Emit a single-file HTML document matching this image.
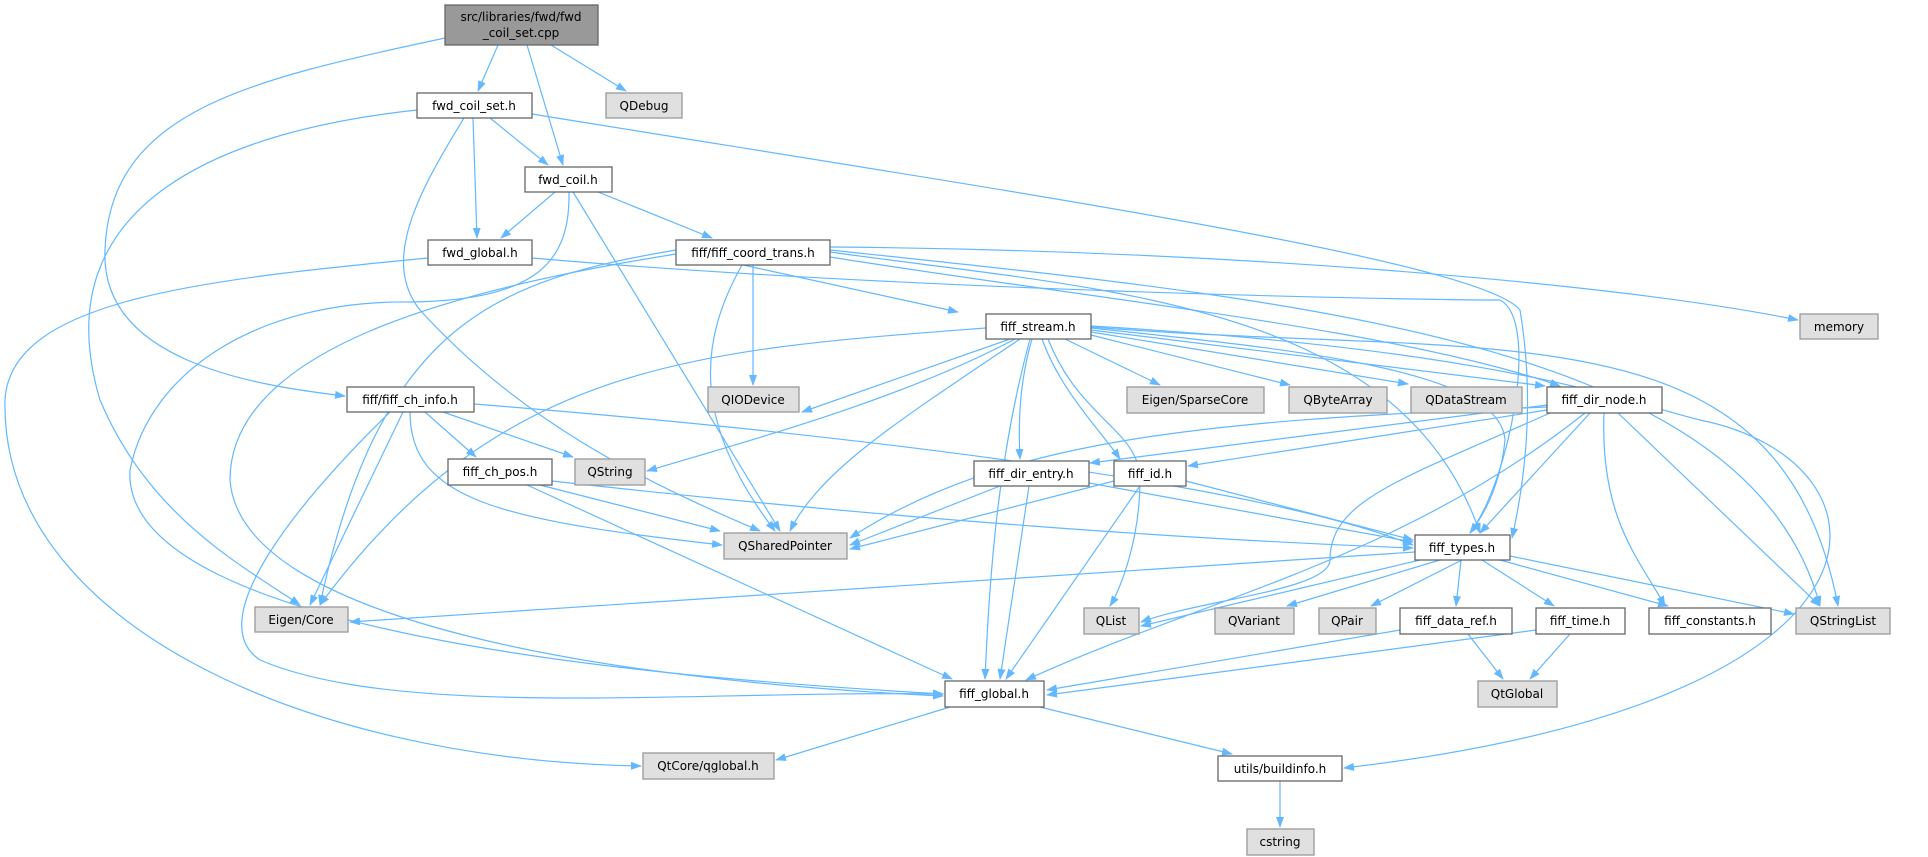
<!DOCTYPE html>
<html><head><meta charset="utf-8"><style>
html,body{margin:0;padding:0;background:#fff;}
svg{display:block;}
text{font-family:"DejaVu Sans","Liberation Sans",sans-serif;font-size:12px;fill:#000;}
.e{fill:none;stroke:#63b8ff;stroke-width:1.2;marker-end:url(#a);}
.n{fill:#fff;stroke:#666;stroke-width:1.3;}
.g{fill:#e0e0e0;stroke:#999;stroke-width:1.3;}
</style></head><body>
<svg width="1928" height="857" viewBox="0 0 1928 857" xmlns="http://www.w3.org/2000/svg">
<defs><marker id="a" markerWidth="11" markerHeight="8" refX="10" refY="4" orient="auto" markerUnits="userSpaceOnUse"><path d="M0,0 L11,4 L0,8 z" fill="#63b8ff"/></marker></defs>
<path class="e" d="M498,45 L478,91"/>
<path class="e" d="M527,45 L563,165"/>
<path class="e" d="M551,45 L626,91"/>
<path class="e" d="M445,38 C250,80 110,110 105,250 C100,360 250,385 345,396"/>
<path class="e" d="M490,118 L548,165"/>
<path class="e" d="M473,118 L477,238"/>
<path class="e" d="M464,118 C420,190 380,260 420,310 C520,420 640,480 760,531"/>
<path class="e" d="M417,110 C230,130 40,200 100,400 C150,520 250,570 300,605"/>
<path class="e" d="M532,114 C1000,190 1480,260 1520,310 C1535,400 1525,480 1512,538"/>
<path class="e" d="M555,192 L501,238"/>
<path class="e" d="M598,192 L712,238"/>
<path class="e" d="M573,192 L780,531"/>
<path class="e" d="M569,192 C570,260 540,300 410,302 C260,300 150,370 130,470 C120,640 700,680 943,694"/>
<path class="e" d="M428,258 C200,280 10,300 5,400 C0,620 300,760 641,766"/>
<path class="e" d="M532,258 C900,290 1400,300 1500,300 C1540,320 1510,480 1470,533"/>
<path class="e" d="M743,265 L958,312"/>
<path class="e" d="M753,265 L753,385"/>
<path class="e" d="M742,265 C700,340 690,420 775,531"/>
<path class="e" d="M676,250 C500,280 380,320 320,605"/>
<path class="e" d="M676,254 C450,290 230,350 230,480 C240,620 600,680 943,696"/>
<path class="e" d="M830,247 C1200,250 1600,280 1798,320"/>
<path class="e" d="M830,252 C1100,290 1400,300 1480,533"/>
<path class="e" d="M830,257 C1100,300 1400,330 1560,386"/>
<path class="e" d="M830,250 C1300,300 1750,340 1820,606"/>
<path class="e" d="M986,328 C700,350 500,360 320,605"/>
<path class="e" d="M1010,339 L802,412"/>
<path class="e" d="M1015,339 C900,400 750,440 647,471"/>
<path class="e" d="M1020,339 C900,420 820,470 790,531"/>
<path class="e" d="M1030,339 C1000,450 990,560 985,679"/>
<path class="e" d="M1032,339 C1020,380 1018,420 1020,459"/>
<path class="e" d="M1042,339 C1060,390 1100,430 1120,459"/>
<path class="e" d="M1048,339 C1080,420 1140,430 1140,480 C1140,540 1120,590 1110,606"/>
<path class="e" d="M1065,339 L1160,385"/>
<path class="e" d="M1091,335 L1290,385"/>
<path class="e" d="M1091,332 L1408,384"/>
<path class="e" d="M1091,330 L1545,386"/>
<path class="e" d="M1091,328 C1300,350 1500,370 1505,440 C1500,490 1480,520 1470,533"/>
<path class="e" d="M1091,327 C1500,360 1780,300 1838,606"/>
<path class="e" d="M1091,326 C1500,350 1620,400 1700,420 C1900,460 1930,700 1344,768"/>
<path class="e" d="M425,412 L476,457"/>
<path class="e" d="M443,412 L573,457"/>
<path class="e" d="M410,412 C410,500 500,520 722,545"/>
<path class="e" d="M403,412 L310,605"/>
<path class="e" d="M390,412 C300,500 200,620 260,660 C400,720 700,690 943,694"/>
<path class="e" d="M474,404 C800,430 1250,480 1413,545"/>
<path class="e" d="M540,485 L720,531"/>
<path class="e" d="M527,485 L952,679"/>
<path class="e" d="M552,481 C900,520 1200,540 1413,548"/>
<path class="e" d="M1547,405 L1090,463"/>
<path class="e" d="M1547,410 L1188,466"/>
<path class="e" d="M1547,407 C1200,420 1000,440 850,538"/>
<path class="e" d="M1550,413 C1400,480 1330,500 1330,560 C1330,590 1200,600 1141,622"/>
<path class="e" d="M1585,413 C1400,560 1200,600 1026,680"/>
<path class="e" d="M1590,413 L1480,533"/>
<path class="e" d="M1604,413 C1600,520 1640,560 1665,606"/>
<path class="e" d="M1618,413 L1820,606"/>
<path class="e" d="M1000,486 L850,545"/>
<path class="e" d="M1029,486 L1000,679"/>
<path class="e" d="M1089,483 L1413,542"/>
<path class="e" d="M1114,481 L850,549"/>
<path class="e" d="M1140,486 L1006,679"/>
<path class="e" d="M1186,481 L1413,540"/>
<path class="e" d="M1415,552 L350,622"/>
<path class="e" d="M1420,560 L1141,626"/>
<path class="e" d="M1440,560 L1287,606"/>
<path class="e" d="M1462,560 L1371,606"/>
<path class="e" d="M1461,560 L1456,606"/>
<path class="e" d="M1482,560 L1554,606"/>
<path class="e" d="M1500,560 L1668,606"/>
<path class="e" d="M1510,556 L1794,614"/>
<path class="e" d="M1400,630 L1047,690"/>
<path class="e" d="M1468,634 L1503,679"/>
<path class="e" d="M1536,630 L1047,695"/>
<path class="e" d="M1570,634 L1530,679"/>
<path class="e" d="M950,707 L776,760"/>
<path class="e" d="M1040,707 L1232,754"/>
<path class="e" d="M1280,781 L1280,827"/>
<rect x="445" y="5" width="153" height="40" fill="#999" stroke="#666" stroke-width="1.3"/>
<text x="521" y="21" text-anchor="middle">src/libraries/fwd/fwd</text>
<text x="521" y="37" text-anchor="middle">_coil_set.cpp</text>
<g>
<rect class="n" x="417" y="93" width="115" height="25"/><text x="474" y="110" text-anchor="middle">fwd_coil_set.h</text>
<rect class="g" x="606" y="93" width="76" height="25"/><text x="644" y="110" text-anchor="middle">QDebug</text>
<rect class="n" x="525" y="167" width="87" height="25"/><text x="568" y="184" text-anchor="middle">fwd_coil.h</text>
<rect class="n" x="428" y="240" width="104" height="25"/><text x="480" y="257" text-anchor="middle">fwd_global.h</text>
<rect class="n" x="676" y="240" width="154" height="25"/><text x="753" y="257" text-anchor="middle">fiff/fiff_coord_trans.h</text>
<rect class="n" x="986" y="314" width="105" height="25"/><text x="1038" y="331" text-anchor="middle">fiff_stream.h</text>
<rect class="g" x="1800" y="314" width="78" height="25"/><text x="1839" y="331" text-anchor="middle">memory</text>
<rect class="g" x="708" y="387" width="91" height="25"/><text x="753" y="404" text-anchor="middle">QIODevice</text>
<rect class="n" x="347" y="387" width="127" height="25"/><text x="410" y="404" text-anchor="middle">fiff/fiff_ch_info.h</text>
<rect class="g" x="1127" y="387" width="137" height="26"/><text x="1195" y="404" text-anchor="middle">Eigen/SparseCore</text>
<rect class="g" x="1289" y="387" width="98" height="26"/><text x="1338" y="404" text-anchor="middle">QByteArray</text>
<rect class="g" x="1411" y="387" width="111" height="26"/><text x="1466" y="404" text-anchor="middle">QDataStream</text>
<rect class="n" x="1547" y="387" width="115" height="26"/><text x="1604" y="404" text-anchor="middle">fiff_dir_node.h</text>
<rect class="n" x="974" y="461" width="115" height="25"/><text x="1031" y="478" text-anchor="middle">fiff_dir_entry.h</text>
<rect class="n" x="1114" y="461" width="72" height="25"/><text x="1150" y="478" text-anchor="middle">fiff_id.h</text>
<rect class="n" x="448" y="459" width="104" height="26"/><text x="500" y="476" text-anchor="middle">fiff_ch_pos.h</text>
<rect class="g" x="575" y="459" width="70" height="26"/><text x="610" y="476" text-anchor="middle">QString</text>
<rect class="g" x="724" y="533" width="123" height="26"/><text x="785" y="550" text-anchor="middle">QSharedPointer</text>
<rect class="n" x="1415" y="535" width="95" height="25"/><text x="1462" y="552" text-anchor="middle">fiff_types.h</text>
<rect class="g" x="255" y="607" width="93" height="25"/><text x="301" y="624" text-anchor="middle">Eigen/Core</text>
<rect class="g" x="1084" y="608" width="55" height="26"/><text x="1111" y="625" text-anchor="middle">QList</text>
<rect class="g" x="1215" y="608" width="79" height="26"/><text x="1254" y="625" text-anchor="middle">QVariant</text>
<rect class="g" x="1319" y="608" width="57" height="26"/><text x="1347" y="625" text-anchor="middle">QPair</text>
<rect class="n" x="1400" y="608" width="112" height="26"/><text x="1456" y="625" text-anchor="middle">fiff_data_ref.h</text>
<rect class="n" x="1536" y="608" width="89" height="26"/><text x="1580" y="625" text-anchor="middle">fiff_time.h</text>
<rect class="n" x="1649" y="608" width="122" height="26"/><text x="1710" y="625" text-anchor="middle">fiff_constants.h</text>
<rect class="g" x="1796" y="608" width="94" height="26"/><text x="1843" y="625" text-anchor="middle">QStringList</text>
<rect class="n" x="945" y="681" width="99" height="26"/><text x="994" y="698" text-anchor="middle">fiff_global.h</text>
<rect class="g" x="1478" y="681" width="79" height="26"/><text x="1517" y="698" text-anchor="middle">QtGlobal</text>
<rect class="g" x="643" y="753" width="131" height="26"/><text x="708" y="770" text-anchor="middle">QtCore/qglobal.h</text>
<rect class="n" x="1218" y="756" width="124" height="25"/><text x="1280" y="773" text-anchor="middle">utils/buildinfo.h</text>
<rect class="g" x="1247" y="829" width="67" height="26"/><text x="1280" y="846" text-anchor="middle">cstring</text>
</g>
</svg>
</body></html>
